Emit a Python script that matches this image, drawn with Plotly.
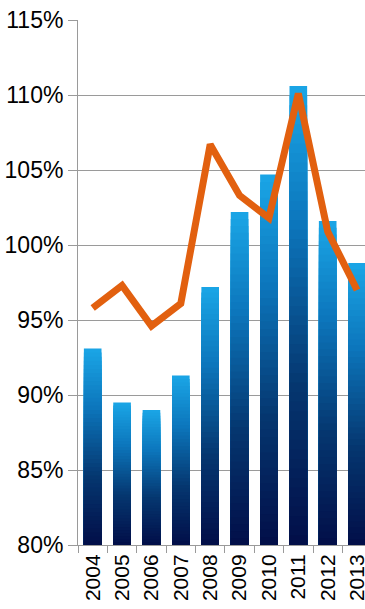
import plotly.graph_objects as go

years = ["2004", "2005", "2006", "2007", "2008", "2009", "2010", "2011", "2012", "2013"]
bar_values = [93.1, 89.5, 89.0, 91.3, 97.2, 102.2, 104.7, 110.6, 101.6, 98.8]
line_values = [95.8, 97.3, 94.6, 96.1, 106.7, 103.3, 101.8, 110.1, 100.9, 97.0]
axis_min = 80

# gradient stops (fraction from bottom of bar -> rgb)
stops = [(0.0, (2, 14, 72)), (0.35, (5, 55, 112)), (0.7, (12, 118, 188)), (1.0, (26, 166, 230))]


def grad(t):
    for (t0, c0), (t1, c1) in zip(stops[:-1], stops[1:]):
        if t <= t1:
            f = (t - t0) / (t1 - t0)
            return "rgb(%d,%d,%d)" % tuple(round(a + (b - a) * f) for a, b in zip(c0, c1))
    return "rgb(%d,%d,%d)" % stops[-1][1]


fig = go.Figure()
N = 48
for k in range(N):
    frac = (N - k) / N
    heights = [(v - axis_min) * frac for v in bar_values]
    fig.add_trace(go.Bar(
        x=years, y=heights, base=[axis_min] * len(years), width=0.6,
        marker=dict(color=grad((N - k - 0.5) / N), line=dict(width=0)),
        showlegend=False, hoverinfo="skip",
    ))

fig.add_trace(go.Scatter(
    x=years, y=line_values, mode="lines",
    line=dict(color="#e2600f", width=7),
    showlegend=False, hoverinfo="skip",
))

fig.update_layout(
    width=365, height=609,
    margin=dict(l=78, r=0, t=20, b=64),
    paper_bgcolor="white", plot_bgcolor="white",
    barmode="overlay",
    font=dict(family="Liberation Sans, Arial, sans-serif", color="black"),
)
fig.update_yaxes(
    range=[80, 115], dtick=5, tick0=80, ticksuffix="%",
    showgrid=True, gridcolor="#9a9a9a", gridwidth=1,
    showline=True, linecolor="#9a9a9a", linewidth=1,
    ticks="outside", ticklen=9, tickcolor="#9a9a9a",
    tickfont=dict(size=23), zeroline=False, automargin=False,
    ticklabeloverflow="allow",
)
fig.update_xaxes(
    type="category", range=[-0.5, 9.27],
    showline=True, linecolor="#9a9a9a", linewidth=1,
    ticks="outside", ticklen=7, tickcolor="#9a9a9a", tickson="boundaries",
    tickangle=-90, tickfont=dict(size=21), showgrid=False, automargin=False,
    ticklabeloverflow="allow",
)

# remove the page's default body margin so the figure fills the window exactly
fig.write_html(
    "out.html",
    config={"displayModeBar": False},
    post_script="document.body.style.margin='0';document.body.style.overflow='hidden';",
)
